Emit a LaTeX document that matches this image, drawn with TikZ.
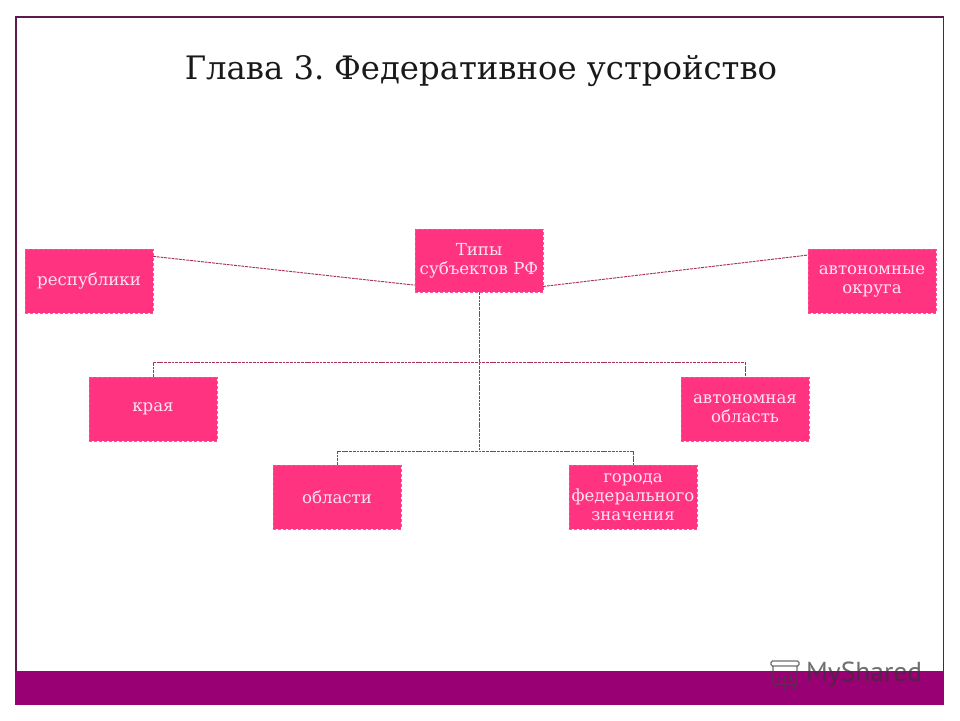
\documentclass[tikz,border=0pt]{standalone}
\usepackage{fontspec}
\setmainfont{DejaVu Serif}
\newfontfamily\logofont{PT Sans}
\usetikzlibrary{calc}
\definecolor{boxpink}{HTML}{FF3380}
\definecolor{boxtext}{HTML}{FFE3F0}
\definecolor{barmag}{HTML}{990073}
\definecolor{framep}{HTML}{5E1A50}
\definecolor{linkc}{HTML}{A8305F}
\tikzset{
  typebox/.style={rectangle,fill=boxpink,draw=boxpink!85!white,densely dashed,line width=0.4pt,
    minimum width=128pt,minimum height=64pt,inner sep=0pt,align=center,text=boxtext,
    font=\fontsize{16.6}{19}\selectfont},
  link/.style={draw=linkc,line width=0.95pt,dash pattern=on 2.8pt off 0.9pt},
  logoline/.style={draw=black!75,line width=1.3pt,opacity=0.75}
}
\begin{document}
\begin{tikzpicture}[x=1pt,y=-1pt]
\useasboundingbox (0,0) rectangle (960,720);
\fill[white] (0,0) rectangle (960,720);
\draw[framep,line width=1.2pt] (16,671) -- (16,17) -- (943.5,17) -- (943.5,671);
\fill[barmag] (15,671) rectangle (944,705);
\node[font=\fontsize{32.3}{38}\selectfont,text=black!90] (title) at (481,71) {Глава 3.\hspace{-4pt} Федеративное устройство};
\node[typebox,minimum height=63pt] (typ) at (479,260.5) {Типы\\субъектов РФ};
\node[typebox] (rep) at (89,281) {республики};
\node[typebox] (okr) at (872,281) {автономные\\округа};
\node[typebox] (kra) at (153,409) {края};
\node[typebox] (avt) at (745,409) {автономная\\область};
\node[typebox] (obl) at (337,497) {области};
\node[typebox] (gor) at (633,497) {города\\федерального\\значения};
\coordinate (j1) at (479,362);
\coordinate (j2) at (479,451);
\draw[link] (rep.21.3) -- (typ.201.7);
\draw[link] (typ.338.3) -- (okr.158.7);
\draw[link] (typ.south) -- (j1) -- (j2);
\draw[link] (kra.north) |- (j1) -| (avt.north);
\draw[link] (obl.north) |- (j2) -| (gor.north);
% watermark
\node[anchor=west,inner sep=0pt,font=\logofont\fontsize{27.5}{30}\selectfont,text=black!80,opacity=0.7] (logo) at (806,675) {MyShared};
\draw[logoline,rounded corners=1.5pt] (771,661) rectangle (799,666);
\draw[logoline,rounded corners=1pt] (773,666) -- (773,684) -- (797,684) -- (797,666);
\draw[logoline] (775,690) -- (776,684) (785,691) -- (785,684) (795,690) -- (794,684);
\draw[logoline] (779,681) -- (779,678) (785,681) -- (785,676) (791,681) -- (791,673);
\end{tikzpicture}
\end{document}
